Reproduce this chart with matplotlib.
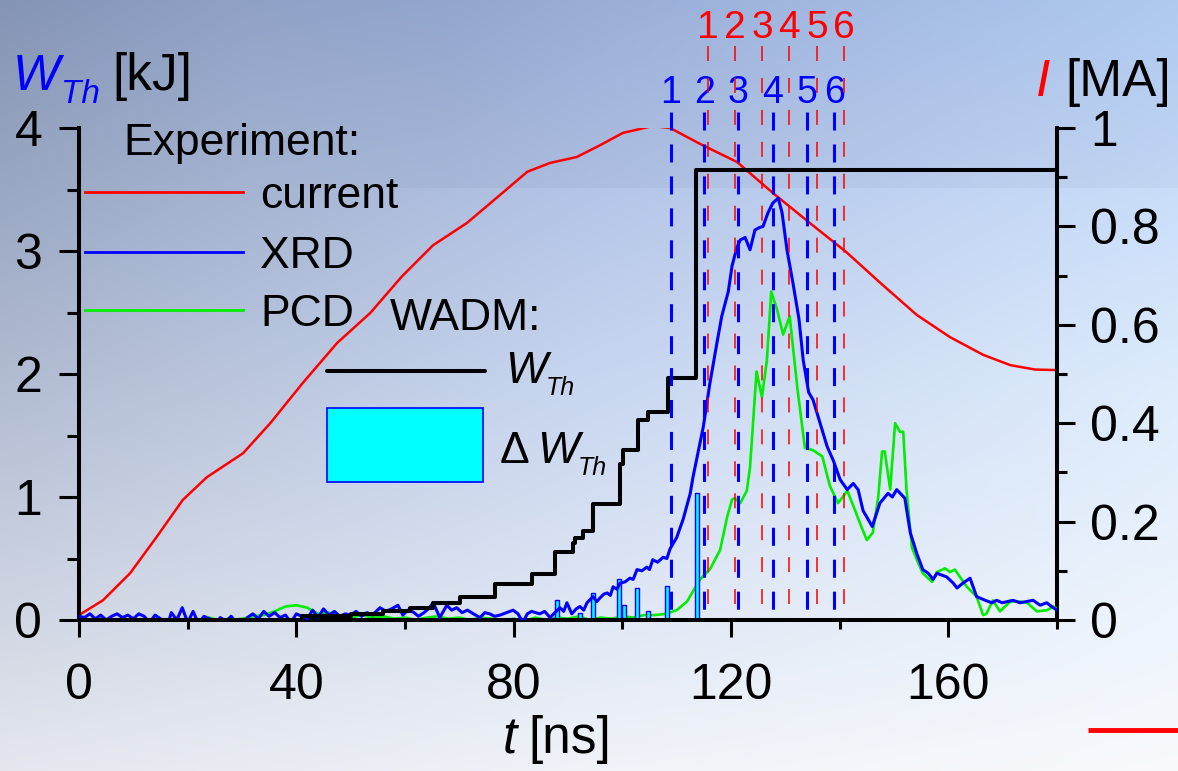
import numpy as np
import matplotlib.pyplot as plt
from matplotlib.patches import Rectangle
from matplotlib.ticker import MultipleLocator

plt.rcParams['font.family'] = 'Liberation Sans'
plt.rcParams['lines.scale_dashes'] = False

# discharge current [MA]
cur_t = [0, 4.4, 9.4, 14.3, 19.1, 23.5, 30.2, 35.2, 41.2, 47.5, 53.6, 59.4,
         65.2, 71.4, 77.5, 82.5, 86.7, 91.6, 95.9, 100.1, 105.6, 108.8, 114.6,
         121.1, 127.7, 134.5, 141.2, 147.7, 154.2, 160.3, 166.4, 171.4, 176.0, 180.0]
cur_i = [0.01, 0.04, 0.095, 0.169, 0.244, 0.29, 0.339, 0.40, 0.482, 0.563, 0.624,
         0.698, 0.762, 0.807, 0.864, 0.911, 0.929, 0.941, 0.965, 0.99, 1.004, 1.0,
         0.966, 0.931, 0.868, 0.807, 0.748, 0.683, 0.62, 0.575, 0.539, 0.518, 0.509, 0.508]

# XRD signal, sampled every 1 ns up to 54 ns, then irregular
xrd_base = [0.03, 0.02, 0.05, 0.01, 0.04, 0.00, 0.03, 0.05, 0.02, 0.04,
            0.01, 0.05, 0.03, -0.02, 0.04, 0.01, -0.08, 0.06, 0.00, 0.10,
            -0.02, 0.07, -0.03, 0.03, 0.01, -0.04, 0.02, -0.01, 0.03, -0.03,
            -0.05, 0.02, 0.05, 0.01, 0.07, 0.03, 0.06, 0.02, 0.04, -0.02,
            0.05, 0.03, 0.01, 0.08, 0.02, 0.09, 0.04, 0.07, 0.03, 0.05,
            0.04, 0.07, 0.03, 0.06, 0.04]
xrd_t_late = [55.4, 56.5, 57.5, 58.7, 59.6, 60.5, 61.5, 62.5, 63.5, 64.3,
              65.2, 66.4, 67.7, 68.6, 69.5, 70.5, 71.5, 72.6, 73.8, 74.7,
              75.6, 76.5, 77.5, 78.7, 79.9, 80.8, 81.7, 82.5, 83.3, 84.8,
              85.7, 86.7, 87.6, 88.5, 89.2, 89.8, 90.7, 91.5, 92.2, 92.9,
              93.5, 94.6, 95.3, 95.9, 96.6, 97.2, 97.8, 98.3, 99.0, 99.6,
              100.5, 101.4, 102.0, 102.7, 103.6, 104.5, 105.0, 105.6, 106.5, 107.5,
              108.2, 108.8, 110.0, 111.2, 112.5, 113.0, 114.9, 116.1, 117.4, 118.3,
              119.5, 120.2, 121.1, 121.7, 122.6, 123.5, 124.4, 125.2, 125.9, 126.8,
              127.7, 128.7, 129.4, 130.3, 131.4, 132.5, 133.3, 134.3, 135.1, 136.4,
              137.7, 138.8, 140.1, 141.4, 142.5, 143.4, 144.3, 146.0, 147.4, 148.9,
              149.7, 150.5, 152.0, 153.0, 154.2, 155.3, 156.3, 157.2, 157.9, 159.7,
              160.9, 161.6, 162.7, 164.0, 165.2, 166.8, 168.0, 168.9, 169.9, 171.9,
              173.2, 175.6, 176.9, 178.1, 179.3, 180.0]
xrd_w_late = [0.10, 0.07, 0.09, 0.12, 0.04, 0.08, 0.065, 0.03, 0.06, 0.09,
              0.14, 0.02, 0.12, 0.08, 0.10, 0.06, 0.08, 0.05, 0.02, 0.06,
              0.05, 0.03, 0.04, 0.06, 0.08, 0.05, -0.02, 0.05, 0.07, 0.05,
              0.07, 0.02, 0.06, 0.10, 0.07, 0.14, 0.05, 0.09, 0.11, 0.08,
              0.14, 0.19, 0.15, 0.18, 0.21, 0.22, 0.20, 0.27, 0.25, 0.30,
              0.31, 0.34, 0.33, 0.41, 0.40, 0.43, 0.41, 0.49, 0.47, 0.51,
              0.50, 0.58, 0.67, 0.82, 1.03, 1.16, 1.57, 1.92, 2.25, 2.47,
              2.67, 2.88, 3.03, 3.09, 3.11, 3.01, 3.17, 3.19, 3.20, 3.31,
              3.39, 3.43, 3.31, 3.01, 2.74, 2.45, 2.11, 1.85, 1.79, 1.60,
              1.41, 1.30, 1.14, 1.06, 1.11, 1.06, 0.89, 0.76, 0.95, 1.03,
              1.00, 1.06, 0.99, 0.71, 0.54, 0.41, 0.38, 0.33, 0.38, 0.35,
              0.30, 0.26, 0.30, 0.34, 0.19, 0.16, 0.14, 0.16, 0.14, 0.16,
              0.14, 0.16, 0.12, 0.14, 0.10, 0.08]

# PCD signal, every 2 ns up to 102 ns, then irregular
pcd_base = [0.01, 0.00, 0.02, -0.01, 0.01, 0.00, -0.02, -0.04, 0.00, 0.01,
            -0.01, 0.00, 0.02, -0.01, 0.00, 0.01, 0.03, 0.04, 0.07, 0.11,
            0.12, 0.10, 0.05, 0.06, 0.03, 0.02, 0.04, 0.02, 0.03, 0.01,
            0.02, 0.00, 0.02, 0.03, 0.01, 0.02, 0.00, 0.02, 0.01, 0.00,
            0.01, -0.01, 0.02, 0.00, 0.02, 0.01, 0.03, 0.00, 0.02, 0.01,
            0.03, 0.02]
pcd_t_late = [104.0, 106.0, 108.0, 110.0, 111.9, 114.3, 116.1, 118.0, 119.3, 120.2,
              120.7, 121.7, 122.9, 123.5, 124.7, 125.7, 126.6, 127.4, 128.5, 129.6,
              130.8, 132.2, 133.6, 135.1, 136.8, 138.2, 139.7, 141.4, 142.5, 143.7,
              145.0, 146.1, 147.1, 147.8, 148.3, 149.3, 150.2, 151.1, 151.7, 152.3,
              153.3, 154.2, 155.3, 157.0, 157.9, 159.4, 160.3, 161.2, 163.4, 165.2,
              166.4, 167.0, 168.2, 169.5, 171.4, 173.2, 174.5, 176.3, 178.2, 179.3,
              180.0]
pcd_w_late = [0.04, 0.04, 0.05, 0.08, 0.15, 0.33, 0.41, 0.57, 0.84, 0.98,
              0.99, 0.95, 1.05, 1.24, 2.02, 1.81, 2.11, 2.67, 2.52, 2.32,
              2.47, 1.89, 1.40, 1.38, 1.33, 1.09, 0.95, 1.05, 0.93, 0.79,
              0.65, 0.71, 1.00, 1.37, 1.37, 1.06, 1.60, 1.53, 1.53, 1.06,
              0.59, 0.49, 0.38, 0.31, 0.39, 0.42, 0.39, 0.41, 0.27, 0.19,
              0.04, 0.05, 0.16, 0.07, 0.15, 0.15, 0.14, 0.07, 0.08, 0.11,
              0.09]

# WADM thermal energy W_Th [kJ] (step) and its increments
wth_t = [0, 41, 50, 56, 61, 65.2, 70.1, 76.6, 83.4, 87.6, 90.9, 91.3, 92.8, 94.6,
         99.6, 100.1, 102.9, 104.7, 108.4, 113.5, 180]
wth = [0.0, 0.03, 0.05, 0.075, 0.10, 0.14, 0.19, 0.29, 0.37, 0.55, 0.63, 0.67, 0.72,
       0.94, 1.27, 1.38, 1.63, 1.69, 1.97, 3.66, 3.66]
dw_t = [88.0, 92.2, 94.6, 99.4, 100.3, 102.7, 104.7, 108.2, 113.8]
dw = [0.16, 0.06, 0.22, 0.33, 0.12, 0.26, 0.07, 0.28, 1.03]

# frame times
blue_marks = [108.9, 115.1, 121.2, 127.7, 133.9, 139.0]
red_marks = [115.7, 120.7, 125.7, 130.7, 135.8, 140.8]
mark_labels = ['1', '2', '3', '4', '5', '6']

xrd_t = list(np.arange(len(xrd_base), dtype=float)) + xrd_t_late
xrd_w = xrd_base + xrd_w_late
pcd_t = list(np.arange(0, 2 * len(pcd_base), 2, dtype=float)) + pcd_t_late
pcd_w = pcd_base + pcd_w_late

FW, FH = 1178, 771
fig = plt.figure(figsize=(FW / 100, FH / 100), dpi=100)

# soft blue-grey backdrop
xs = np.linspace(0, 1, FW)
ys = np.linspace(0, 1, FH)
top = np.array([[132, 148, 180], [160, 180, 222], [182, 208, 248]], float)
mid = np.array([[178, 188, 210], [200, 214, 240], [222, 236, 252]], float)
bot = np.array([[228, 231, 238], [240, 243, 248], [248, 250, 253]], float)
rows = []
for r in (top, mid, bot):
    rows.append(np.stack([np.interp(xs, [0, 0.5, 1], r[:, c]) for c in range(3)], -1))
wy = ys[:, None, None]
img = np.where(wy < 0.5,
               rows[0] * (1 - wy / 0.5) + rows[1] * (wy / 0.5),
               rows[1] * (1 - (wy - 0.5) / 0.5) + rows[2] * ((wy - 0.5) / 0.5))
band = (np.arange(FH) < 188)[:, None] * np.clip((np.arange(FW) - 250) / 200, 0, 1)[None, :]
img = img - 7 * band[:, :, None]
bg = fig.add_axes([0, 0, 1, 1], zorder=0)
bg.imshow(np.clip(img, 0, 255).astype(np.uint8), aspect='auto', extent=[0, 1, 0, 1])
bg.axis('off')

ax = fig.add_axes([79 / FW, (FH - 620) / FH, (1057 - 79) / FW, (620 - 128) / FH])
ax2 = ax.twinx()
ax.set_zorder(ax2.get_zorder() + 1)
ax.patch.set_visible(False)
ax2.patch.set_visible(False)

ax2.plot(cur_t, cur_i, color='#ff0000', lw=1.8)
ax.plot(xrd_t, xrd_w, color='#0000ff', lw=2.2, zorder=3)
ax.plot(pcd_t, pcd_w, color='#00ee00', lw=1.9, zorder=2)
ax.bar(dw_t, dw, width=0.75, color='cyan', edgecolor='blue', linewidth=1.0, zorder=2)
ax.plot(wth_t, wth, color='black', lw=2.9, drawstyle='steps-post', zorder=4)

for t, lab in zip(red_marks, mark_labels):
    ax.plot([t, t], [4.67, 0], color='#ff0000', lw=1.1, dashes=(10.8, 12.2),
            clip_on=False, zorder=5)
    ax.text(t, 4.73, lab, color='#ff0000', fontsize=28, ha='center', va='baseline')
for t, lab in zip(blue_marks, mark_labels):
    ax.plot([t, t], [4.13, 0], color='#0000ff', lw=2.2, dashes=(13, 10),
            clip_on=False, zorder=6)
    ax.text(t, 4.20, lab, color='#0000ff', fontsize=27, ha='center', va='baseline')

ax.set_xlim(0, 180)
ax.set_ylim(0, 4)
ax2.set_ylim(0, 1)

ax.xaxis.set_major_locator(MultipleLocator(40))
ax.xaxis.set_minor_locator(MultipleLocator(20))
ax.yaxis.set_major_locator(MultipleLocator(1))
ax.yaxis.set_minor_locator(MultipleLocator(0.5))
ax2.yaxis.set_major_locator(MultipleLocator(0.2))
ax2.yaxis.set_minor_locator(MultipleLocator(0.1))
ax2.yaxis.set_major_formatter(plt.FuncFormatter(
    lambda v, p: '0' if abs(v) < 1e-9 else ('1' if abs(v - 1) < 1e-9 else f'{v:.1f}')))

for s in ('top', 'right'):
    ax.spines[s].set_visible(False)
for s in ('top', 'left', 'bottom'):
    ax2.spines[s].set_visible(False)
ax.spines['left'].set_linewidth(2.9)
ax.spines['bottom'].set_linewidth(2.9)
ax2.spines['right'].set_linewidth(2.9)

ax.tick_params(axis='x', which='major', length=12, width=2.2, labelsize=36, pad=19)
ax.tick_params(axis='x', which='minor', length=6.5, width=2.2)
ax.tick_params(axis='y', which='major', length=14.4, width=2.2, labelsize=36, pad=12)
ax.tick_params(axis='y', which='minor', length=8.6, width=2.2)
ax2.tick_params(axis='y', which='major', length=13, width=2.2, labelsize=36, pad=11)
ax2.tick_params(axis='y', which='minor', length=7, width=2.2)

# overlay in pixel coordinates for labels and the key
ov = fig.add_axes([0, 0, 1, 1], zorder=ax.get_zorder() + 1)
ov.set_xlim(0, FW)
ov.set_ylim(FH, 0)
ov.axis('off')

ov.text(13, 90, 'W', color='#0000ff', fontsize=36, fontstyle='italic', va='baseline')
ov.text(61, 103, 'Th', color='#0000ff', fontsize=24, fontstyle='italic', va='baseline')
ov.text(112, 90, '[kJ]', color='black', fontsize=37, va='baseline')

ov.text(1036, 96, 'I', color='#ff0000', fontsize=37, fontstyle='italic', va='baseline')
ov.text(1065, 96, '[MA]', color='black', fontsize=37, va='baseline')

ov.text(503, 753, 't', color='black', fontsize=37, fontstyle='italic', va='baseline')
ov.text(528, 753, '[ns]', color='black', fontsize=37, va='baseline')

ov.text(123, 155, 'Experiment:', fontsize=32, va='baseline')
for y, col, lab in [(192, '#ff0000', 'current'), (252, '#0000ff', 'XRD'), (310, '#00ee00', 'PCD')]:
    ov.plot([85, 243], [y, y], color=col, lw=2.0)
    ov.text(260, y + 16, lab, fontsize=32, va='baseline')

ov.text(390, 330, 'WADM:', fontsize=32, va='baseline')
ov.plot([327, 485], [371, 371], color='black', lw=2.9, solid_capstyle='round')
ov.text(505, 383, 'W', fontsize=32, fontstyle='italic', va='baseline')
ov.text(546, 395, 'Th', fontsize=18, fontstyle='italic', va='baseline')
ov.add_patch(Rectangle((327, 408), 156, 74, facecolor='cyan', edgecolor='blue', lw=1.2))
ov.text(500, 463, '\u0394', fontsize=32, va='baseline')
ov.text(537, 463, 'W', fontsize=32, fontstyle='italic', va='baseline')
ov.text(578, 475, 'Th', fontsize=18, fontstyle='italic', va='baseline')

ov.plot([1088, 1178], [730, 730], color='#ff0000', lw=3.5, solid_capstyle='butt')

fig.savefig('out.png', dpi=100)
